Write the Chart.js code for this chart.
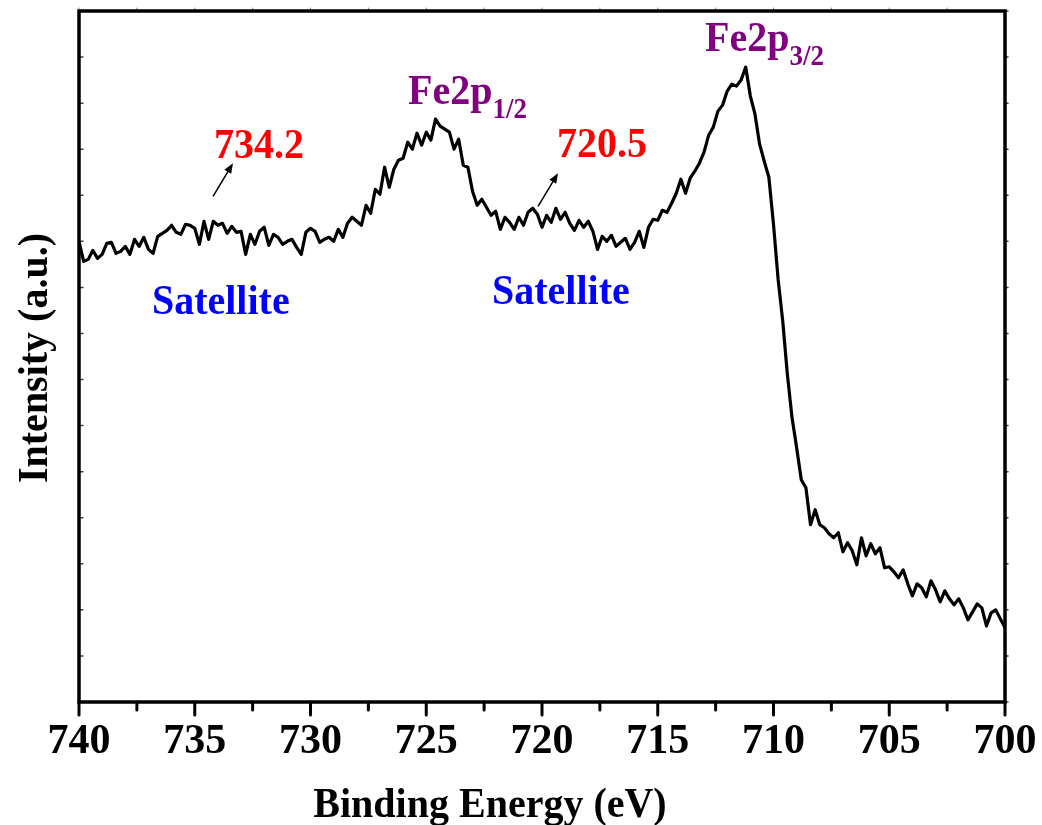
<!DOCTYPE html>
<html>
<head>
<meta charset="utf-8">
<script src="https://cdn.jsdelivr.net/npm/chart.js@4.4.1/dist/chart.umd.min.js"></script>
<style>
  body { margin: 0; background: #fff; }
  canvas { display: block; }
</style>
</head>
<body>
<canvas id="xps" width="1042" height="825"></canvas>
<script>
// binding energy (eV), every 0.2 eV
var energies = [
  740.0, 739.8, 739.6, 739.4, 739.2, 739.0, 738.8, 738.6, 738.4, 738.2,
  738.0, 737.8, 737.6, 737.4, 737.2, 737.0, 736.8, 736.6, 736.4, 736.2,
  736.0, 735.8, 735.6, 735.4, 735.2, 735.0, 734.8, 734.6, 734.4, 734.2,
  734.0, 733.8, 733.6, 733.4, 733.2, 733.0, 732.8, 732.6, 732.4, 732.2,
  732.0, 731.8, 731.6, 731.4, 731.2, 731.0, 730.8, 730.6, 730.4, 730.2,
  730.0, 729.8, 729.6, 729.4, 729.2, 729.0, 728.8, 728.6, 728.4, 728.2,
  728.0, 727.8, 727.6, 727.4, 727.2, 727.0, 726.8, 726.6, 726.4, 726.2,
  726.0, 725.8, 725.6, 725.4, 725.2, 725.0, 724.8, 724.6, 724.4, 724.2,
  724.0, 723.8, 723.6, 723.4, 723.2, 723.0, 722.8, 722.6, 722.4, 722.2,
  722.0, 721.8, 721.6, 721.4, 721.2, 721.0, 720.8, 720.6, 720.4, 720.2,
  720.0, 719.8, 719.6, 719.4, 719.2, 719.0, 718.8, 718.6, 718.4, 718.2,
  718.0, 717.8, 717.6, 717.4, 717.2, 717.0, 716.8, 716.6, 716.4, 716.2,
  716.0, 715.8, 715.6, 715.4, 715.2, 715.0, 714.8, 714.6, 714.4, 714.2,
  714.0, 713.8, 713.6, 713.4, 713.2, 713.0, 712.8, 712.6, 712.4, 712.2,
  712.0, 711.8, 711.6, 711.4, 711.2, 711.0, 710.8, 710.6, 710.4, 710.2,
  710.0, 709.8, 709.6, 709.4, 709.2, 709.0, 708.8, 708.6, 708.4, 708.2,
  708.0, 707.8, 707.6, 707.4, 707.2, 707.0, 706.8, 706.6, 706.4, 706.2,
  706.0, 705.8, 705.6, 705.4, 705.2, 705.0, 704.8, 704.6, 704.4, 704.2,
  704.0, 703.8, 703.6, 703.4, 703.2, 703.0, 702.8, 702.6, 702.4, 702.2,
  702.0, 701.8, 701.6, 701.4, 701.2, 701.0, 700.8, 700.6, 700.4, 700.2,
  700.0
];

// intensity (a.u.)
var intensity = [
  460, 440, 442, 451, 443, 447, 458, 459, 448, 450,
  455, 447, 462, 455, 464, 452, 448, 465, 468, 471,
  476, 469, 467, 477, 476, 473, 457, 480, 462, 480,
  476, 478, 468, 475, 469, 470, 447, 467, 457, 470,
  474, 456, 467, 464, 457, 460, 462, 454, 447, 469,
  473, 470, 459, 462, 464, 460, 472, 464, 478, 484,
  480, 476, 496, 488, 512, 507, 534, 514, 532, 541,
  543, 559, 552, 568, 556, 569, 561, 582, 575, 572,
  569, 552, 562, 536, 534, 510, 496, 502, 494, 486,
  490, 472, 484, 479, 472, 484, 476, 489, 493, 487,
  474, 486, 479, 493, 482, 489, 478, 471, 481, 474,
  480, 470, 452, 465, 460, 466, 455, 459, 463, 452,
  459, 470, 454, 474, 482, 481, 491, 489, 498, 508,
  522, 508, 523, 530, 538, 549, 566, 574, 590, 596,
  610, 617, 615, 621, 634, 605, 587, 557, 540, 524,
  477, 422, 380, 327, 284, 254, 222, 214, 177, 192,
  177, 174, 168, 164, 169, 150, 159, 151, 137, 164,
  146, 158, 148, 154, 134, 135, 130, 124, 132, 118,
  106, 118, 114, 105, 121, 112, 100, 111, 103, 97,
  103, 94, 82, 90, 98, 94, 76, 89, 92, 83,
  74
];

var xTicks = [740, 735, 730, 725, 720, 715, 710, 705, 700];

// annotations, anchored in data units (left edge / baseline of text)
var notes = [
  { text: '734.2', e: 734.17, v: 543, color: '#ff0000' },
  { text: '720.5', e: 719.35, v: 544, color: '#ff0000' },
  { text: 'Satellite', e: 736.85, v: 387, color: '#0000ff' },
  { text: 'Satellite', e: 722.16, v: 397, color: '#0000ff' }
];
var peaks = [
  { text: 'Fe2p', sub: '1/2', e: 725.79, v: 597 },
  { text: 'Fe2p', sub: '3/2', e: 712.96, v: 650 }
];
var arrows = [
  { e1: 734.21, v1: 505, e2: 733.35, v2: 538 },
  { e1: 720.17, v1: 495, e2: 719.31, v2: 528 }
];

var serif = '"Liberation Serif", "Times New Roman", serif';

function stretchText(ctx, text, x, y, size, color) {
	ctx.save();
	ctx.translate(x, y);
	ctx.scale(1, 1.08);
	ctx.font = 'bold ' + size + 'px ' + serif;
	ctx.fillStyle = color;
	ctx.textBaseline = 'alphabetic';
	ctx.fillText(text, 0, 0);
	var w = ctx.measureText(text).width;
	ctx.restore();
	return w;
}

var framePlugin = {
	id: 'frame',
	afterDraw: function(chart){
		var ctx = chart.ctx, a = chart.chartArea;
		var x = chart.scales.x, y = chart.scales.y;
		ctx.save();
		ctx.strokeStyle = '#000';
		ctx.lineCap = 'round';

		// bottom ticks, major + minor
		ctx.lineWidth = 3;
		var majors = x.ticks.map(function(t){ return t.value; });
		majors.forEach(function(v){
			var px = x.getPixelForValue(v);
			ctx.beginPath(); ctx.moveTo(px, a.bottom); ctx.lineTo(px, a.bottom + 13); ctx.stroke();
		});
		for (var i = 0; i < majors.length - 1; i++) {
			var px = x.getPixelForValue((majors[i] + majors[i + 1]) / 2);
			ctx.beginPath(); ctx.moveTo(px, a.bottom); ctx.lineTo(px, a.bottom + 8); ctx.stroke();
		}

		// small ticks on top
		ctx.lineWidth = 1;
		ctx.strokeStyle = '#888';
		for (var i = 0; i < majors.length - 1; i++) {
			[majors[i], (majors[i] + majors[i + 1]) / 2].forEach(function(v){
				var px = x.getPixelForValue(v);
				ctx.beginPath(); ctx.moveTo(px, a.top); ctx.lineTo(px, a.top - 3); ctx.stroke();
			});
		}
		// left / right ticks
		ctx.strokeStyle = '#444';
		ctx.lineWidth = 1.5;
		y.ticks.forEach(function(t){
			var py = y.getPixelForValue(t.value);
			ctx.beginPath(); ctx.moveTo(a.left, py); ctx.lineTo(a.left + 4, py); ctx.stroke();
			ctx.beginPath(); ctx.moveTo(a.right, py); ctx.lineTo(a.right + 3, py); ctx.stroke();
		});

		// frame
		ctx.strokeStyle = '#000';
		ctx.lineWidth = 3.5;
		ctx.lineCap = 'butt';
		ctx.strokeRect(a.left, a.top, a.right - a.left, a.bottom - a.top);

		// arrows
		ctx.lineWidth = 1.5;
		ctx.fillStyle = '#000';
		arrows.forEach(function(ar){
			var x1 = x.getPixelForValue(ar.e1), y1 = y.getPixelForValue(ar.v1);
			var x2 = x.getPixelForValue(ar.e2), y2 = y.getPixelForValue(ar.v2);
			var ang = Math.atan2(y2 - y1, x2 - x1);
			ctx.beginPath(); ctx.moveTo(x1, y1);
			ctx.lineTo(x2 - 6 * Math.cos(ang), y2 - 6 * Math.sin(ang)); ctx.stroke();
			ctx.beginPath();
			ctx.moveTo(x2, y2);
			ctx.lineTo(x2 - 10 * Math.cos(ang) + 4 * Math.sin(ang), y2 - 10 * Math.sin(ang) - 4 * Math.cos(ang));
			ctx.lineTo(x2 - 10 * Math.cos(ang) - 4 * Math.sin(ang), y2 - 10 * Math.sin(ang) + 4 * Math.cos(ang));
			ctx.closePath(); ctx.fill();
		});

		// labels
		notes.forEach(function(n){
			stretchText(ctx, n.text, x.getPixelForValue(n.e), y.getPixelForValue(n.v), 40, n.color);
		});
		peaks.forEach(function(p){
			var px = x.getPixelForValue(p.e), py = y.getPixelForValue(p.v);
			var w = stretchText(ctx, p.text, px, py, 40, '#800080');
			stretchText(ctx, p.sub, px + w, py + 14, 27, '#800080');
		});

		// axis titles
		ctx.save();
		ctx.font = 'bold 40px ' + serif;
		ctx.fillStyle = '#000';
		ctx.textAlign = 'center';
		ctx.translate(490, 817);
		ctx.scale(1, 1.08);
		ctx.fillText('Binding Energy (eV)', 0, 0);
		ctx.restore();

		ctx.save();
		ctx.font = 'bold 40px ' + serif;
		ctx.fillStyle = '#000';
		ctx.textAlign = 'center';
		ctx.translate(47, 358);
		ctx.rotate(-Math.PI / 2);
		ctx.scale(1, 1.08);
		ctx.fillText('Intensity (a.u.)', 0, 0);
		ctx.restore();

		ctx.restore();
	}
};

var points = energies.map(function(e, i){ return { x: e, y: intensity[i] }; });

var ctx = document.getElementById('xps').getContext('2d');
var myChart = new Chart(ctx, {
	type: 'line',
	data: {
		datasets: [{
			data: points,
			borderColor: '#000',
			borderWidth: 3.2,
			borderJoinStyle: 'round',
			pointRadius: 0,
			tension: 0,
			fill: false
		}]
	},
	options: {
		responsive: false,
		animation: false,
		devicePixelRatio: 1,
		layout: { padding: { left: 0, right: 37, top: 11, bottom: 0 } },
		plugins: { legend: { display: false }, tooltip: { enabled: false } },
		scales: {
			x: {
				type: 'linear',
				reverse: true,
				min: 700,
				max: 740,
				afterFit: function(s){ s.height = 123; s.paddingLeft = 0; s.paddingRight = 0; },
				afterBuildTicks: function(s){ s.ticks = xTicks.map(function(v){ return { value: v }; }); },
				grid: { display: false, drawTicks: false },
				border: { display: false },
				ticks: {
					padding: 15,
					color: '#000',
					autoSkip: false,
					maxRotation: 0,
					font: { family: serif, weight: 'bold', size: 42 }
				}
			},
			y: {
				min: 0,
				max: 690,
				afterFit: function(s){ s.width = 79; s.paddingTop = 0; s.paddingBottom = 0; },
				grid: { display: false, drawTicks: false },
				border: { display: false },
				ticks: { display: false, stepSize: 46 }
			}
		}
	},
	plugins: [framePlugin]
});
</script>
</body>
</html>
